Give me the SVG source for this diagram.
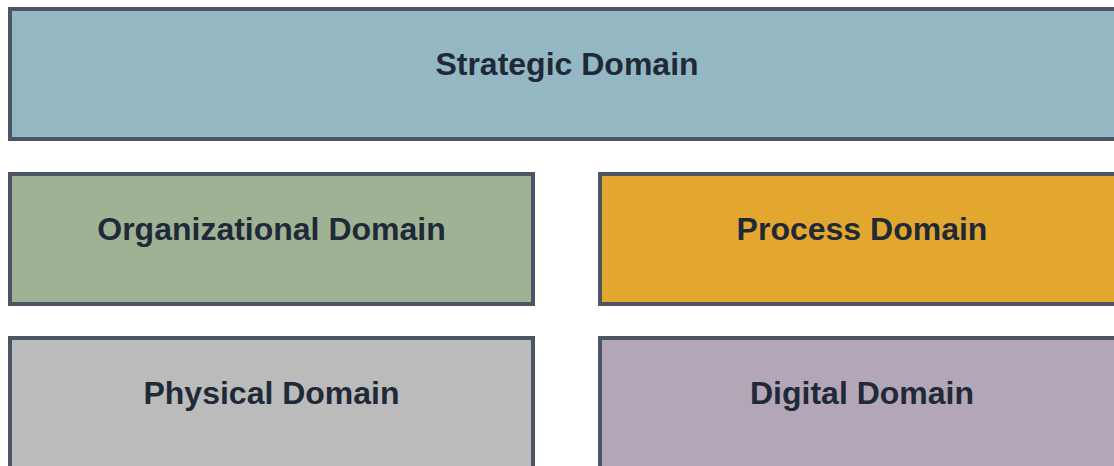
<svg xmlns="http://www.w3.org/2000/svg" width="1114" height="466" viewBox="0 0 1114 466">
<style>
.box{stroke:#4b5563;stroke-width:4}
.lbl{font-family:"Liberation Sans",Arial,sans-serif;font-weight:bold;font-size:32px;fill:#1f2937;text-anchor:middle}
</style>
<rect width="1114" height="466" fill="#ffffff"/>
<g id="strategic"><rect class="box" x="10" y="9" width="1114" height="130" fill="#93b8c4"/><text class="lbl" x="567" y="75">Strategic Domain</text></g>
<g id="organizational"><rect class="box" x="10" y="174" width="523" height="130" fill="#9fb394"/><text class="lbl" x="271.5" y="240">Organizational Domain</text></g>
<g id="process"><rect class="box" x="600" y="174" width="524" height="130" fill="#e3a72f"/><text class="lbl" x="862" y="240">Process Domain</text></g>
<g id="physical"><rect class="box" x="10" y="338" width="523" height="140" fill="#bbbbbb"/><text class="lbl" x="271.5" y="404">Physical Domain</text></g>
<g id="digital"><rect class="box" x="600" y="338" width="524" height="140" fill="#b3a7b7"/><text class="lbl" x="862" y="404">Digital Domain</text></g>
<g id="connectors"></g>
</svg>
